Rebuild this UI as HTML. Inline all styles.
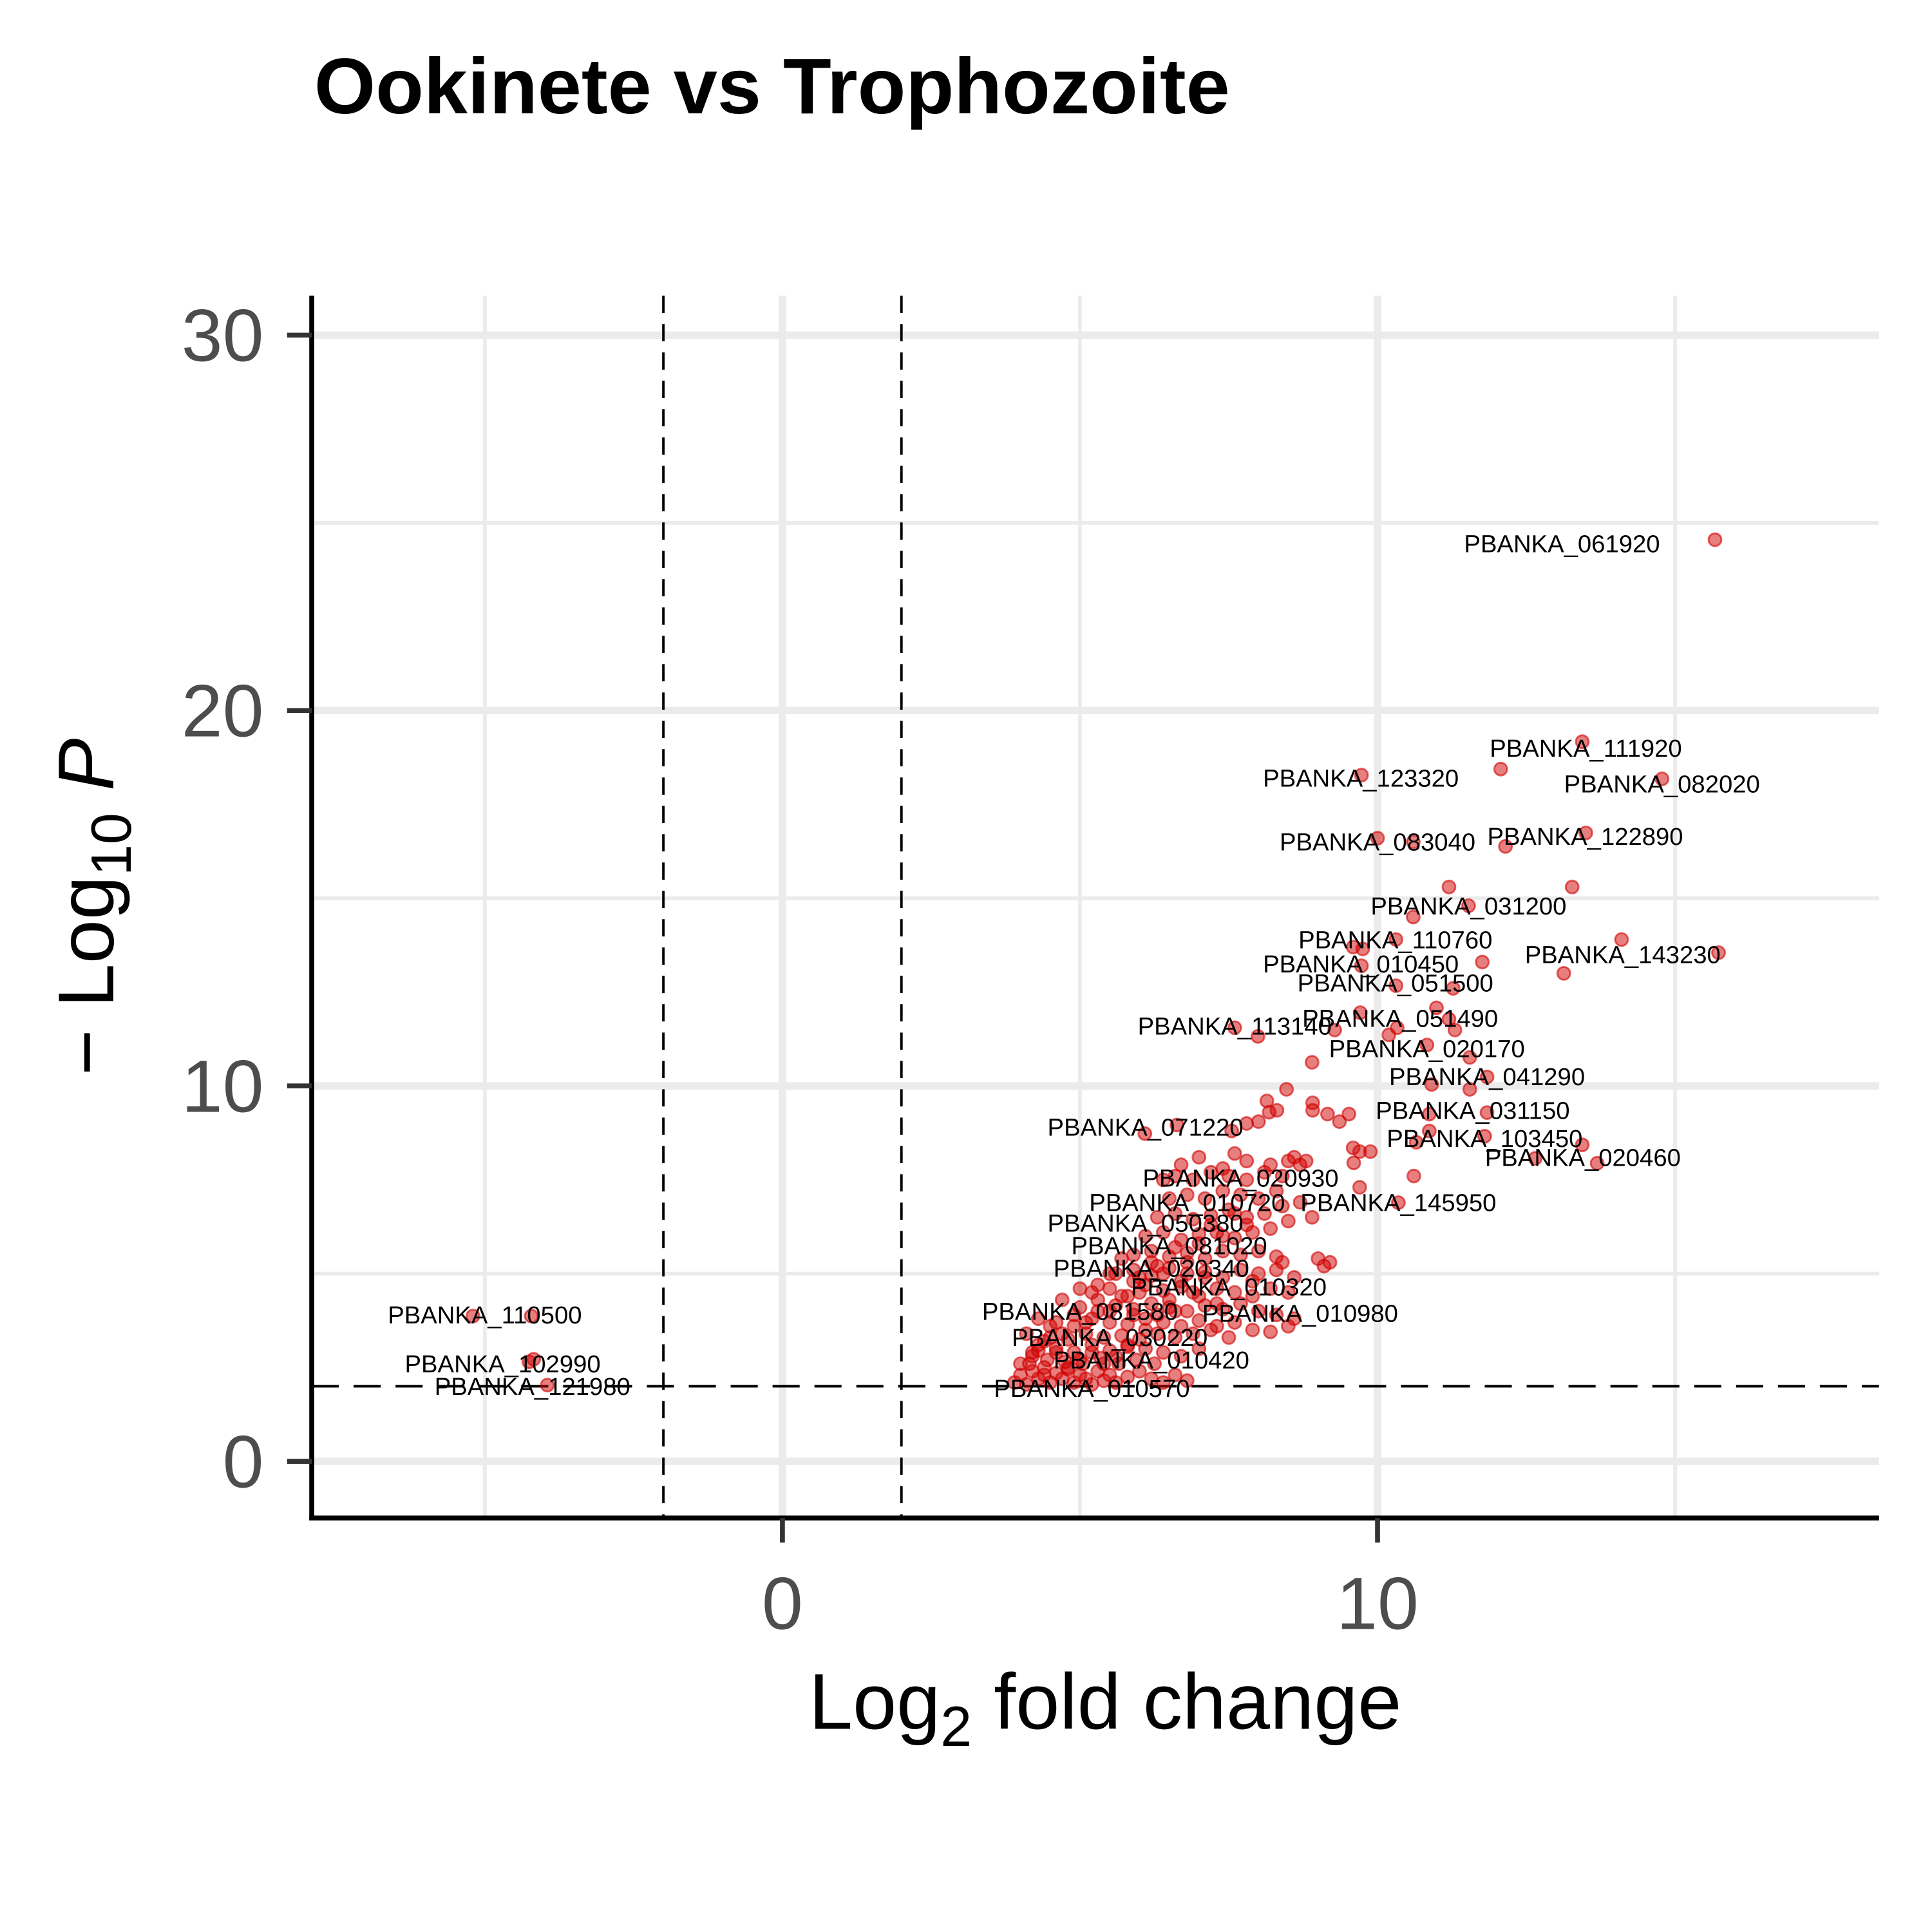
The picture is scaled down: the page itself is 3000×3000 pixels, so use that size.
<!DOCTYPE html>
<html><head><meta charset="utf-8"><style>
html,body{margin:0;padding:0;background:#fff;}
svg{display:block;font-family:"Liberation Sans",Arial,sans-serif;}
</style></head><body>
<svg id="chart" width="3000" height="3000" viewBox="0 0 1568 1568" xmlns="http://www.w3.org/2000/svg">
<rect width="1568" height="1568" fill="#fff"/>
<text x="255" y="92" font-size="64" font-weight="bold">Ookinete vs Trophozoite</text>
<g id="grid"></g>
<g id="refs"></g>
<g id="points"></g>
<g id="labels"></g>
<g id="axes"></g>
<text x="897" y="1403" font-size="64" text-anchor="middle">Log<tspan font-size="46" dy="14">2</tspan><tspan dy="-14"> fold change</tspan></text>
<text transform="translate(92,736) rotate(-90)" font-size="64" text-anchor="middle">− Log<tspan font-size="46" dy="14">10</tspan><tspan dy="-14" font-style="italic"> P</tspan></text>
</svg>
<script>
const xTicks=[0,10];
const xTickLabels=["0","10"];
const xMinor=[-5,5,15];
const yTicks=[0,10,20,30];
const yTickLabels=["0","10","20","30"];
const yMinor=[5,15,25];
const fcCut=[-2,2];
const pCut=[2];
const labelNames=["PBANKA_061920","PBANKA_111920","PBANKA_123320","PBANKA_082020","PBANKA_083040","PBANKA_122890","PBANKA_031200","PBANKA_110760","PBANKA_143230","PBANKA_010450","PBANKA_051500","PBANKA_051490","PBANKA_113140","PBANKA_020170","PBANKA_041290","PBANKA_071220","PBANKA_031150","PBANKA_103450","PBANKA_020460","PBANKA_020930","PBANKA_010720","PBANKA_145950","PBANKA_050380","PBANKA_081020","PBANKA_020340","PBANKA_010320","PBANKA_081580","PBANKA_010980","PBANKA_030220","PBANKA_010420","PBANKA_010570","PBANKA_110500","PBANKA_102990","PBANKA_121980"];
const labelX=[13.1,13.5,9.72,14.78,10.0,13.49,11.53,10.3,14.12,9.72,10.3,10.38,7.6,10.83,11.84,6.1,11.6,11.8,13.45,7.7,6.8,10.35,6.1,6.5,6.2,7.5,5.0,8.7,5.5,6.2,5.2,-5.0,-4.7,-4.2];
const labelY=[24.45,19.0,18.2,18.05,16.5,16.65,14.8,13.9,13.5,13.25,12.75,11.8,11.6,11.0,10.25,8.9,9.35,8.6,8.1,7.55,6.9,6.9,6.35,5.75,5.15,4.65,4.0,3.95,3.3,2.7,1.95,3.9,2.6,2.0];
const xs=[
15.67,13.44,12.07,9.73,14.78,10.0,10.6,13.5,12.15,11.2,
13.27,11.53,10.6,14.1,15.73,10.31,9.59,9.75,11.76,9.73,
13.13,10.31,11.27,10.99,9.71,11.2,10.33,10.19,11.3,9.28,
7.6,7.99,10.83,11.55,8.9,11.84,10.91,11.55,8.47,8.14,
8.91,8.18,8.31,8.0,8.91,9.16,9.36,9.52,11.84,10.87,
10.87,11.8,6.63,6.09,7.8,7.55,13.44,13.69,12.65,9.59,
9.7,9.88,9.6,10.61,10.65,10.35,9.7,-5.2,-4.22,-4.18,
-4.26,-3.95,
3.9,4.0,4.1,4.2,4.3,4.4,4.5,4.6,4.7,4.8,
4.9,5.0,5.1,5.2,5.3,5.4,5.5,5.6,5.8,6.0,
6.2,6.4,6.6,6.8,4.15,4.45,4.75,5.05,5.35,5.65,
5.95,6.25,4.3,4.6,4.9,5.2,5.5,5.8,6.1,6.4,
6.7,7.0,4.5,4.8,5.1,5.4,5.7,6.0,6.3,6.6,
6.9,7.2,7.5,4.6,4.9,5.2,5.5,5.8,6.1,6.4,
6.7,7.0,7.3,7.6,7.9,8.2,8.5,5.0,5.3,5.6,
5.9,6.2,6.5,6.8,7.1,7.4,7.7,8.0,8.3,8.6,
5.2,5.5,5.8,6.1,6.4,6.7,7.0,7.3,7.6,7.9,
8.2,8.5,5.6,5.9,6.2,6.5,6.8,7.1,7.4,7.7,
8.0,8.3,8.6,9.0,9.1,5.9,6.2,6.5,6.8,7.1,
7.4,7.7,8.0,8.3,6.1,6.4,6.7,7.0,7.3,7.6,
7.9,8.2,8.5,6.3,6.6,6.9,7.2,7.5,7.8,8.1,
8.4,8.7,6.5,6.8,7.1,7.4,7.7,8.0,8.3,6.6,
6.9,7.2,7.5,7.8,8.1,8.4,8.7,6.4,6.7,7.4,
7.8,8.2,8.5,8.8,7.0,7.6,8.6,4.2,4.4,5.9,
4.0,4.2,4.4,4.6,4.8,5.0,5.2,5.4,5.6,5.8,
4.1,4.3,4.5,4.7,4.9,5.1,5.3,5.5,5.7,5.9,
6.0,6.2,6.4,6.6,6.8,7.0,7.2,7.4,7.6,7.8,
6.1,6.3,6.5,6.7,6.9,7.1,7.3,6.0,6.3,6.6,
5.5,5.7,5.3,5.0,4.7,4.3,8.9,9.2,8.4,7.9];
const ys=[
24.55,19.17,18.44,18.28,18.18,16.6,16.5,16.74,16.38,15.3,
15.3,14.8,14.5,13.9,13.55,13.9,13.7,13.65,13.3,13.2,
13.0,12.67,12.6,12.08,11.95,11.78,11.55,11.36,11.49,11.49,
11.55,11.32,11.09,10.76,10.63,10.24,10.04,9.91,9.91,9.6,
9.55,9.3,9.35,9.05,9.35,9.25,9.05,9.25,9.29,9.25,
8.8,8.66,8.96,8.73,9.0,8.8,8.43,7.94,8.07,8.35,
8.25,8.25,7.95,7.6,8.5,6.89,7.3,3.87,3.87,2.72,
2.65,2.03,
2.1,2.3,2.05,2.4,2.2,2.5,2.1,2.35,2.2,2.45,
2.1,2.3,2.2,2.05,2.4,2.15,2.3,2.1,2.25,2.4,
2.2,2.1,2.3,2.15,2.6,2.7,2.65,2.6,2.75,2.6,
2.7,2.6,2.95,3.0,2.9,3.1,2.95,3.05,3.0,2.9,
2.8,3.0,3.3,3.25,3.4,3.3,3.35,3.25,3.4,3.3,
3.4,3.5,3.3,3.7,3.6,3.8,3.7,3.65,3.8,3.7,
3.6,3.75,3.6,3.7,3.5,3.45,3.6,4.1,4.0,4.15,
4.05,4.2,4.1,4.0,4.15,4.05,4.2,4.0,3.9,3.8,
4.5,4.6,4.4,4.7,4.55,4.65,4.4,4.6,4.5,4.4,
4.6,4.5,5.0,5.1,4.95,5.15,5.0,5.05,4.9,5.1,
5.0,5.1,4.9,5.4,5.2,5.5,5.6,5.45,5.55,5.4,
5.6,5.5,5.6,5.45,6.0,6.1,5.9,6.05,6.1,5.95,
6.1,6.2,6.4,6.5,6.6,6.45,6.55,6.7,6.5,6.6,
6.8,6.9,7.0,7.1,7.0,7.2,7.1,7.0,7.2,7.6,
7.5,7.7,7.6,7.5,7.7,7.6,7.9,7.5,7.9,7.8,
8.0,7.9,8.0,8.0,8.1,8.2,8.1,2.9,3.2,3.9,
2.6,2.8,2.3,2.9,2.5,2.7,2.9,2.6,2.8,3.1,
3.4,3.1,3.6,3.4,3.9,3.7,4.3,4.0,4.4,4.8,
4.9,5.3,5.0,5.7,5.3,5.8,6.3,6.0,6.6,6.3,
3.5,3.9,4.3,4.8,4.5,4.9,4.2,4.5,5.2,4.0,
5.0,5.4,4.7,4.6,4.3,3.8,6.5,5.3,5.3,4.8];
const NS="http://www.w3.org/2000/svg";
const L=253,R=1525,T=240,B=1232;
function sx(v){return 635+v*48.3;}
function sy(v){return 1186-v*30.467;}
function mk(tag,attrs,parent){const e=document.createElementNS(NS,tag);for(const k in attrs)e.setAttribute(k,attrs[k]);parent.appendChild(e);return e;}
const grid=document.getElementById('grid');
xMinor.forEach(v=>{const e=mk('line',{x1:sx(v),x2:sx(v),y1:T,y2:B,stroke:'#ebebeb','stroke-width':3},grid);

});
yMinor.forEach(v=>{const e=mk('line',{x1:L,x2:R,y1:sy(v),y2:sy(v),stroke:'#ebebeb','stroke-width':3},grid);

});
xTicks.forEach(v=>{const e=mk('line',{x1:sx(v),x2:sx(v),y1:T,y2:B,stroke:'#ebebeb','stroke-width':6},grid);

});
yTicks.forEach(v=>{const e=mk('line',{x1:L,x2:R,y1:sy(v),y2:sy(v),stroke:'#ebebeb','stroke-width':6},grid);

});
const refs=document.getElementById('refs');
fcCut.forEach(v=>{const e=mk('line',{x1:sx(v),x2:sx(v),y1:T,y2:B,stroke:'#000','stroke-width':2,'stroke-dasharray':'14,9'},refs);

});
pCut.forEach(v=>{const e=mk('line',{x1:L,x2:R,y1:sy(v),y2:sy(v),stroke:'#000','stroke-width':2,'stroke-dasharray':'22,12'},refs);

});
const pts=document.getElementById('points');
const n=Math.min(xs.length,ys.length);
for(let i=0;i<n;i++){const c=mk('circle',{cx:sx(xs[i]),cy:sy(ys[i]),r:5.2,fill:'rgba(208,0,0,0.5)',stroke:'rgba(208,0,0,0.6)','stroke-width':1.5},pts);

}
const lab=document.getElementById('labels');
for(let i=0;i<labelNames.length;i++){const t=mk('text',{x:sx(labelX[i]),y:sy(labelY[i])+7,'font-size':20,'text-anchor':'middle',fill:'#000'},lab);
t.textContent=labelNames[i];

}
const ax=document.getElementById('axes');
let a=mk('line',{x1:L,x2:L,y1:T,y2:B+2,stroke:'#000','stroke-width':4},ax);


a=mk('line',{x1:L-2,x2:R,y1:B,y2:B,stroke:'#000','stroke-width':4},ax);


yTicks.forEach((v,i)=>{const tk=mk('line',{x1:233,x2:L,y1:sy(v),y2:sy(v),stroke:'#333','stroke-width':4},ax);


const t=mk('text',{x:214,y:sy(v)+21,'font-size':60,'text-anchor':'end',fill:'#4d4d4d'},ax);
t.textContent=yTickLabels[i];

});
xTicks.forEach((v,i)=>{const tk=mk('line',{x1:sx(v),x2:sx(v),y1:B,y2:B+20,stroke:'#333','stroke-width':4},ax);


const t=mk('text',{x:sx(v),y:1322,'font-size':60,'text-anchor':'middle',fill:'#4d4d4d'},ax);
t.textContent=xTickLabels[i];

});
</script>
</body></html>
